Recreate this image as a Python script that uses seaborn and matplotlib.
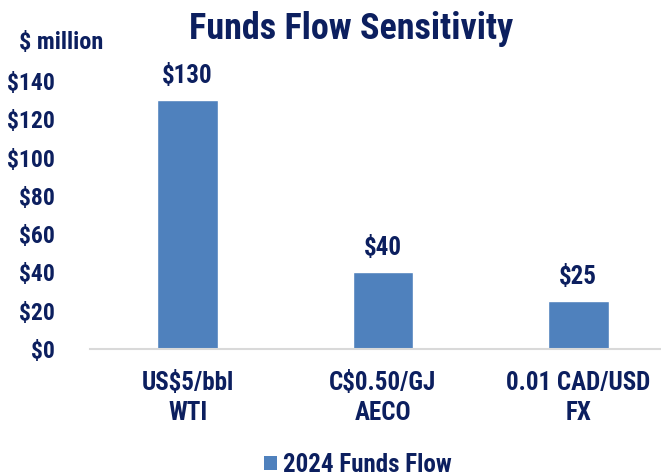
import pandas as pd
import seaborn as sns
import matplotlib.pyplot as plt
from matplotlib.patches import Patch

# data
categories = ["US$5/bbl\nWTI", "C$0.50/GJ\nAECO", "0.01 CAD/USD\nFX"]
values = [130, 40, 25]
series_name = "2024 Funds Flow"

bar_color = "#4F81BD"
navy = "#0C1F5F"

sns.set_theme(style="white")
plt.rcParams['font.family'] = ['Roboto Condensed', 'PT Sans Narrow', 'DejaVu Sans']
plt.rcParams['font.weight'] = 'bold'

df = pd.DataFrame({"category": categories, "value": values, "series": series_name})

fig = plt.figure(figsize=(6.61, 4.76), dpi=100)
ax = fig.add_axes([90 / 661, 1 - 349 / 476, 586 / 661, 268 / 476])

sns.barplot(data=df, x="category", y="value", color=bar_color, width=0.31,
            saturation=1, ax=ax)

ax.set_ylim(0, 140)
ax.set_yticks(range(0, 141, 20))
ax.set_yticklabels([f"${v}" for v in range(0, 141, 20)])
ax.set_xlabel("")
ax.set_ylabel("")

for c in ax.containers:
    ax.bar_label(c, labels=[f"${v:.0f}" for v in values], padding=9,
                 fontsize=18, fontweight="bold", color=navy)

ax.tick_params(axis="y", length=0, pad=25, labelsize=17, labelcolor=navy)
ax.tick_params(axis="x", length=0, pad=16, labelsize=18, labelcolor=navy)
for lab in ax.get_xticklabels():
    lab.set_linespacing(1.3)

sns.despine(ax=ax, left=True)
ax.spines["bottom"].set_color("#D9D9D9")
ax.spines["bottom"].set_linewidth(1.5)

fig.text(351 / 661, 1 - 29 / 476, "Funds Flow Sensitivity", ha="center", va="center",
         fontsize=26, fontweight="bold", color=navy)
fig.text(19 / 661, 1 - 42 / 476, "$ million", ha="left", va="center",
         fontsize=17.5, fontweight="bold", color=navy)

handle = Patch(facecolor=bar_color, edgecolor="none")
fig.legend([handle], [series_name], loc="center", bbox_to_anchor=(358 / 661, 11 / 476),
           frameon=False, handlelength=0.52, handleheight=0.52, handletextpad=0.25,
           borderpad=0.1, prop={"size": 18, "weight": "bold"}, labelcolor=navy)

fig.savefig("out.png", dpi=100)
